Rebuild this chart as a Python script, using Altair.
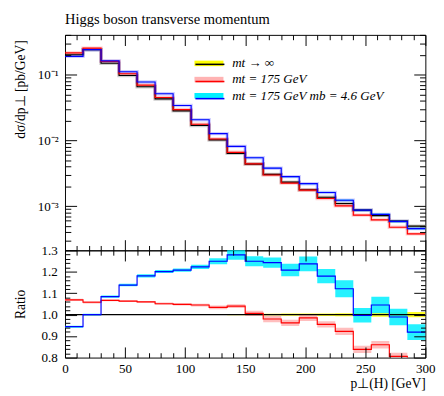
import altair as alt
import pandas as pd

# ---------------- data ----------------
pt_edges = list(range(0, 301, 15))  # 20 bins of 15 GeV
series = ["mt → ∞", "mt = 175 GeV", "mt = 175 GeV  mb = 4.6 GeV"]
line_keys = ["line: mt inf", "line: mt 175", "line: mt 175 mb 4.6"]
line_colors = ["#000000", "#ff0000", "#0000ff"]
band_colors = ["#ffff00", "#ffb3b3", "#00f0ff"]

# d sigma / d pT for mt -> infinity  [pb/GeV]
xs_inf = [0.202, 0.241, 0.150, 0.0977, 0.0658, 0.0429, 0.0282, 0.0169, 0.0102, 0.00636,
          0.00438, 0.00305, 0.00233, 0.00178, 0.00137, 0.00110, 0.000873, 0.000720, 0.000594, 0.000497]
# ratios to mt -> infinity
ratio_inf = [1.0] * 20
ratio_175 = [1.069, 1.058, 1.067, 1.063, 1.060, 1.051, 1.048, 1.045, 1.034, 1.040,
             1.006, 0.980, 0.962, 0.985, 0.955, 0.922, 0.838, 0.860, 0.806, 0.763]
ratio_175_mb = [0.944, 1.000, 1.084, 1.138, 1.181, 1.201, 1.208, 1.223, 1.249, 1.279,
                1.249, 1.243, 1.208, 1.237, 1.180, 1.121, 0.997, 1.045, 0.989, 0.919]
# relative uncertainties
err_inf = [0.002, 0.002, 0.002, 0.002, 0.002, 0.002, 0.002, 0.002, 0.002, 0.003,
           0.003, 0.004, 0.005, 0.005, 0.006, 0.007, 0.008, 0.010, 0.011, 0.012]
err_175 = [0.005, 0.005, 0.004, 0.004, 0.004, 0.005, 0.005, 0.006, 0.008, 0.008,
           0.012, 0.015, 0.015, 0.015, 0.015, 0.018, 0.020, 0.020, 0.020, 0.020]
err_175_mb = [0.005, 0.004, 0.005, 0.005, 0.006, 0.006, 0.006, 0.008, 0.011, 0.018,
              0.019, 0.019, 0.024, 0.028, 0.028, 0.035, 0.034, 0.037, 0.039, 0.040]

x_major = [0, 50, 100, 150, 200, 250, 300]
x_minor = [v for v in range(10, 300, 10) if v % 50 != 0]
y_major = [0.001, 0.01, 0.1]
y_minor = [k * 10.0 ** e for e in (-4, -3, -2, -1) for k in range(2, 10)
           if 2.13e-4 <= k * 10.0 ** e <= 0.405]
r_major = [0.8, 0.9, 1.0, 1.1, 1.2, 1.3]
r_minor = [round(0.8 + 0.02 * i, 2) for i in range(1, 25) if i % 5 != 0]

rows = []
for name, key, ratio, err in zip(series, line_keys, [ratio_inf, ratio_175, ratio_175_mb],
                                 [err_inf, err_175, err_175_mb]):
    for i, edge in enumerate(pt_edges):
        j = min(i, len(xs_inf) - 1)
        v = xs_inf[j] * ratio[j]
        rows.append({"series": name, "line": key, "pt": edge,
                     "xs": v, "xs_lo": v * (1 - err[j]), "xs_hi": v * (1 + err[j]),
                     "r": ratio[j], "r_lo": ratio[j] * (1 - err[j]), "r_hi": ratio[j] * (1 + err[j])})
df = pd.DataFrame(rows)

# ---------------- style ----------------
FONT = "Liberation Serif"
W, H_TOP, H_RAT = 373, 223, 111

x_scale = alt.Scale(domain=[0, 300], nice=False, zero=False)
y_top_scale = alt.Scale(type="log", domain=[2.13e-4, 0.405], nice=False)
y_rat_scale = alt.Scale(domain=[0.8, 1.3], nice=False, zero=False)
stroke_scale = alt.Scale(domain=line_keys, range=line_colors)
fill_scale = alt.Scale(domain=series, range=band_colors)


def tick_axis(orient, values, size):
    return alt.Axis(orient=orient, values=values, labels=False, ticks=True, tickSize=size,
                    offset=-size, domain=False, grid=False, title=None, tickColor="black",
                    tickWidth=1, zindex=2, minExtent=0, maxExtent=size)


legend_common = dict(orient="none", legendX=141.5, legendY=22, title=None, padding=0,
                     symbolSize=225, labelFont=FONT, labelFontSize=13.5, labelFontStyle="italic",
                     labelColor="black", labelOffset=16.5, rowPadding=2.75, symbolOffset=0,
                     labelLimit=400)
fill_legend = alt.Legend(symbolType="M-2,-0.38H2V0.38H-2Z", symbolStrokeWidth=0,
                         symbolOpacity=1, zindex=1, **legend_common)
stroke_legend = alt.Legend(symbolType="M-2,0H2", symbolStrokeWidth=1.6, symbolOpacity=1,
                           symbolFillColor="transparent", labelExpr="' '", zindex=2,
                           **legend_common)

base = alt.Chart(df)

# ---------------- main panel ----------------
top_y_label_axis = alt.Axis(orient="left", values=y_major, ticks=False, tickSize=0, domain=False,
                            grid=False, labelPadding=7, labelFontSize=13.5, labelBaseline="middle",
                            labelExpr="'10' + (datum.value < 0.005 ? '⁻³' : (datum.value < 0.05 ? '⁻²' : '⁻¹'))",
                            title="dσ/dp⊥ [pb/GeV]", titleFontSize=14, titleFontWeight="normal",
                            titleX=-39, titleY=5, titleAlign="right", titleAngle=-90,
                            titleBaseline="bottom")

t_area = base.mark_area(interpolate="step-after", opacity=0.55, clip=True).encode(
    x=alt.X("pt:Q", scale=x_scale, axis=tick_axis("bottom", x_major, 11)),
    y=alt.Y("xs_lo:Q", scale=y_top_scale, axis=top_y_label_axis),
    y2="xs_hi:Q",
    fill=alt.Fill("series:N", scale=fill_scale, legend=fill_legend, sort=series),
)
t_halo = base.mark_line(interpolate="step-after", strokeWidth=3.5, opacity=0.2, clip=True).encode(
    x=alt.X("pt:Q", scale=x_scale, axis=tick_axis("bottom", x_minor, 5)),
    y=alt.Y("xs:Q", scale=y_top_scale, axis=tick_axis("left", y_major, 12)),
    stroke=alt.Stroke("line:N", scale=stroke_scale, legend=stroke_legend, sort=line_keys),
)
t_line = base.mark_line(interpolate="step-after", strokeWidth=1.2, clip=True).encode(
    x=alt.X("pt:Q", scale=x_scale, axis=tick_axis("top", x_major, 11)),
    y=alt.Y("xs:Q", scale=y_top_scale, axis=tick_axis("left", y_minor, 6)),
    stroke=alt.Stroke("line:N", scale=stroke_scale, legend=stroke_legend, sort=line_keys),
)
t_d1 = base.mark_line(opacity=0).encode(
    x=alt.X("pt:Q", scale=x_scale, axis=tick_axis("top", x_minor, 5)),
    y=alt.Y("xs:Q", scale=y_top_scale, axis=tick_axis("right", y_major, 12)),
)
t_d2 = base.mark_line(opacity=0).encode(
    x=alt.X("pt:Q", scale=x_scale, axis=None),
    y=alt.Y("xs:Q", scale=y_top_scale, axis=tick_axis("right", y_minor, 6)),
)

top = alt.layer(t_area, t_halo, t_line, t_d1, t_d2).resolve_axis(
    x="independent", y="independent"
).properties(
    width=W, height=H_TOP,
    title=alt.TitleParams("Higgs boson transverse momentum", anchor="start", frame="group",
                          font=FONT, fontSize=15, fontWeight="normal", color="black", offset=8),
)

# ---------------- ratio panel ----------------
rat_x_label_axis = alt.Axis(orient="bottom", values=x_major, ticks=False, tickSize=0, domain=False,
                            grid=False, labelPadding=4, labelFontSize=13.5, labelFlush=False,
                            title="p⊥(H) [GeV]", titleFontSize=14, titleFontWeight="normal",
                            titleAnchor="end", titlePadding=3)
rat_y_label_axis = alt.Axis(orient="left", values=r_major, ticks=False, tickSize=0, domain=False,
                            grid=False, labelPadding=8, labelFontSize=13.5, format=".1f",
                            labelBaseline="middle", labelOverlap=False,
                            title="Ratio", titleFontSize=14, titleFontWeight="normal",
                            titleX=-39, titleY=H_RAT / 2, titleAlign="center", titleAngle=-90,
                            titleBaseline="bottom")

r_area = base.mark_area(interpolate="step-after", opacity=0.85, clip=True).encode(
    x=alt.X("pt:Q", scale=x_scale, axis=rat_x_label_axis),
    y=alt.Y("r_lo:Q", scale=y_rat_scale, axis=rat_y_label_axis),
    y2="r_hi:Q",
    fill=alt.Fill("series:N", scale=fill_scale, legend=None, sort=series),
)
r_line = base.mark_line(interpolate="step-after", strokeWidth=1.2, clip=True).encode(
    x=alt.X("pt:Q", scale=x_scale, axis=tick_axis("bottom", x_major, 11)),
    y=alt.Y("r:Q", scale=y_rat_scale, axis=tick_axis("left", r_major, 12)),
    stroke=alt.Stroke("line:N", scale=stroke_scale, legend=None, sort=line_keys),
)
r_d1 = base.mark_line(opacity=0, clip=True).encode(
    x=alt.X("pt:Q", scale=x_scale, axis=tick_axis("bottom", x_minor, 5)),
    y=alt.Y("r:Q", scale=y_rat_scale, axis=tick_axis("left", r_minor, 5)),
)
r_d2 = base.mark_line(opacity=0, clip=True).encode(
    x=alt.X("pt:Q", scale=x_scale, axis=tick_axis("top", x_major, 11)),
    y=alt.Y("r:Q", scale=y_rat_scale, axis=tick_axis("right", r_major, 12)),
)
r_d3 = base.mark_line(opacity=0, clip=True).encode(
    x=alt.X("pt:Q", scale=x_scale, axis=tick_axis("top", x_minor, 5)),
    y=alt.Y("r:Q", scale=y_rat_scale, axis=tick_axis("right", r_minor, 5)),
)

ratio = alt.layer(r_area, r_line, r_d1, r_d2, r_d3).resolve_axis(
    x="independent", y="independent"
).properties(width=W, height=H_RAT)

chart = alt.vconcat(top, ratio, spacing=0, bounds="flush").resolve_scale(
    fill="independent", stroke="independent"
).properties(
    padding={"left": 5, "top": -3, "right": 0, "bottom": 0},
    background="white",
).configure_view(
    stroke="black", strokeWidth=1
).configure_axis(
    labelFont=FONT, titleFont=FONT, labelColor="black", titleColor="black"
)

chart.save("out.html", embed_options={"renderer": "svg", "actions": False})
